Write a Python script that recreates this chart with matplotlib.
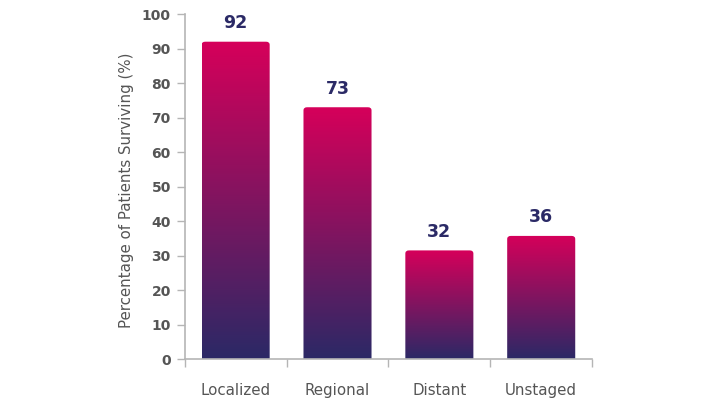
import numpy as np
import matplotlib
matplotlib.use("Agg")
import matplotlib.pyplot as plt
from matplotlib.colors import LinearSegmentedColormap
from matplotlib.path import Path
from matplotlib.patches import PathPatch

# -----------------------------
# Data
# -----------------------------
categories = ["Localized", "Regional", "Distant", "Unstaged"]
values = [92, 73, 31.5, 35.7]
value_labels = ["92", "73", "32", "36"]
y_ticks = list(range(0, 101, 10))

plt.rcParams["font.family"] = ["DejaVu Sans"]

TOP_COLOR = "#d6005a"
BOTTOM_COLOR = "#2b2966"
LABEL_COLOR = "#2b2a66"
AXIS_COLOR = "#b5b5b5"
TEXT_COLOR = "#555555"

cmap = LinearSegmentedColormap.from_list("bar_grad", [BOTTOM_COLOR, TOP_COLOR])

fig = plt.figure(figsize=(7.16, 4.03), dpi=100)
ax = fig.add_axes([0.258, 0.109, 0.569, 0.856])

bar_width = 0.668
radius_x = 0.035
radius_y = 0.9

ax.set_xlim(-0.5, len(categories) - 0.5)
ax.set_ylim(0, 100)

gradient = np.linspace(0, 1, 256).reshape(-1, 1)

for i, (v, lab) in enumerate(zip(values, value_labels)):
    x0 = i - bar_width / 2
    x1 = i + bar_width / 2
    # rounded top corners, square bottom
    verts = [
        (x0, 0), (x1, 0), (x1, v - radius_y),
        (x1, v), (x1 - radius_x, v),
        (x0 + radius_x, v),
        (x0, v), (x0, v - radius_y),
        (x0, 0),
    ]
    codes = [Path.MOVETO, Path.LINETO, Path.LINETO,
             Path.CURVE3, Path.CURVE3,
             Path.LINETO,
             Path.CURVE3, Path.CURVE3,
             Path.CLOSEPOLY]
    patch = PathPatch(Path(verts, codes), facecolor="none", edgecolor="none")
    ax.add_patch(patch)
    im = ax.imshow(gradient, cmap=cmap, origin="lower", aspect="auto",
                   extent=[x0, x1, 0, v], interpolation="bicubic", zorder=2)
    im.set_clip_path(patch)
    ax.text(i, v + 2.8, lab, ha="center", va="bottom", fontsize=12.5,
            fontweight="bold", color=LABEL_COLOR)

ax.set_xlim(-0.5, len(categories) - 0.5)
ax.set_ylim(0, 100)

for side in ["top", "right"]:
    ax.spines[side].set_visible(False)
for side in ["left", "bottom"]:
    ax.spines[side].set_color(AXIS_COLOR)
    ax.spines[side].set_linewidth(1.2)

ax.set_yticks(y_ticks)
ax.set_yticklabels([str(t) for t in y_ticks], fontsize=10,
                   fontweight="bold", color=TEXT_COLOR)
ax.tick_params(axis="y", length=6, width=1, color=AXIS_COLOR, pad=4)

ax.set_xticks(range(len(categories)))
ax.set_xticklabels(categories, fontsize=10.8, color=TEXT_COLOR)
ax.tick_params(axis="x", which="major", length=0, pad=17)
ax.set_xticks(np.arange(-0.5, len(categories), 1.0), minor=True)
ax.tick_params(axis="x", which="minor", length=6, width=1, color=AXIS_COLOR)

ax.set_ylabel("Percentage of Patients Surviving (%)", fontsize=10.8,
              color=TEXT_COLOR)
ax.yaxis.set_label_coords(-0.125, 0.49)

fig.savefig("out.png", dpi=100)
